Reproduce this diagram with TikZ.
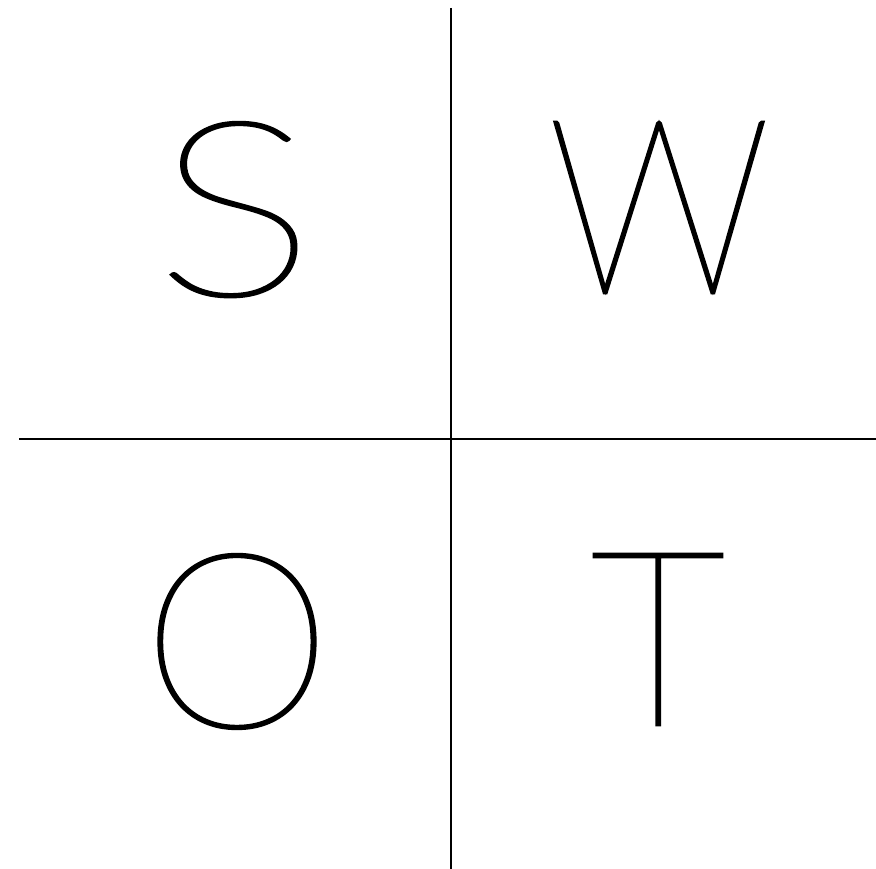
\documentclass[tikz,border=0pt]{standalone}
\usepackage{fontspec}
\newfontfamily\thinfont{Lato Thin}[FakeBold=1.2]
\begin{document}
\begin{tikzpicture}[x=1pt,y=-1pt,
  divider/.style={line width=2pt,black},
  letter/.style={anchor=base,inner sep=0pt,font=\thinfont\fontsize{244}{244}\selectfont}]
\useasboundingbox (0,0) rectangle (876,869);
\coordinate (vt) at (451,8);
\coordinate (vb) at (451,869);
\coordinate (hl) at (19,439);
\coordinate (hr) at (876,439);
\draw[divider] (vt) -- (vb);
\draw[divider] (hl) -- (hr);
\node[letter,xscale=1.24] (S) at (235,295) {S};
\node[letter,xscale=0.91] (W) at (659,293) {W};
\node[letter,xscale=0.99] (O) at (237,727) {O};
\node[letter,xscale=0.97] (T) at (658,725) {T};
\end{tikzpicture}
\end{document}
